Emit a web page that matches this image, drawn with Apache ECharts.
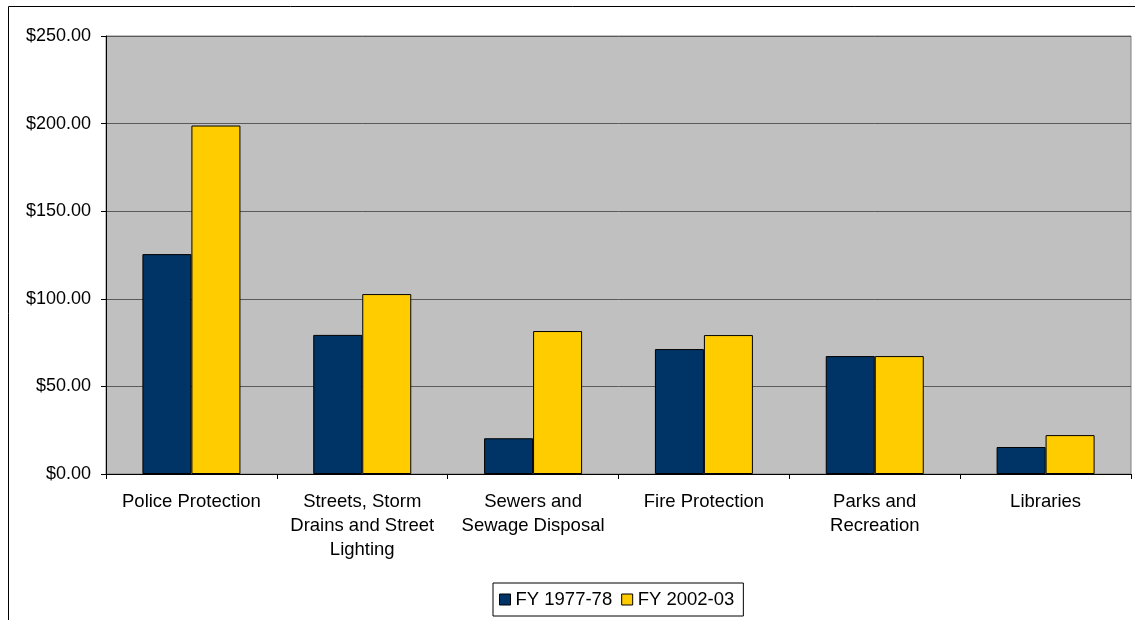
<!DOCTYPE html>
<html>
<head>
<meta charset="utf-8">
<script src="https://cdn.jsdelivr.net/npm/echarts@6/dist/echarts.min.js"></script>
<style>
  html, body { margin:0; padding:0; background:#fff; }
  #chart { width:1135px; height:620px; }
</style>
</head>
<body>
<div id="chart"></div>
<script>
// categories and values
var categories = ["Police Protection", "Streets, Storm\nDrains and Street\nLighting", "Sewers and\nSewage Disposal", "Fire Protection", "Parks and\nRecreation", "Libraries"];
var fy1977 = [125.5, 79.4, 20.4, 71.3, 67.3, 15.4];
var fy2002 = [198.9, 102.7, 81.6, 79.3, 67.3, 22.2];
var seriesNames = ["FY 1977-78", "FY 2002-03"];

var myChart = echarts.init(document.getElementById("chart"));

var option = {
	animation : false,
	textStyle : { fontFamily : "Liberation Sans, Arial, sans-serif" },
	graphic : [{
		type : "rect",
		shape : { x : 8.5, y : 6.5, width : 1200, height : 700 },
		style : { fill : "none", stroke : "#000", lineWidth : 1 },
		z : 0
	}],
	grid : {
		left : 106, right : 4, top : 36, bottom : 146,
		show : true,
		backgroundColor : "#C0C0C0",
		borderColor : "#808080",
		borderWidth : 1
	},
	legend : {
		data : seriesNames,
		left : 493, top : 583,
		orient : "horizontal",
		icon : "rect",
		itemWidth : 11, itemHeight : 11,
		itemGap : 9,
		padding : [7, 9, 7, 6],
		borderColor : "#000", borderWidth : 1,
		itemStyle : { borderColor : "#000", borderWidth : 1 },
		textStyle : { fontSize : 18.5, color : "#000" }
	},
	xAxis : {
		type : "category",
		data : categories,
		axisLine : { lineStyle : { color : "#000", width : 1 } },
		axisTick : { show : true, length : 5, lineStyle : { color : "#000" } },
		axisLabel : { color : "#000", fontSize : 18.5, lineHeight : 24, margin : 16, interval : 0 }
	},
	yAxis : {
		type : "value",
		min : 0, max : 250, interval : 50,
		axisLine : { show : true, lineStyle : { color : "#000", width : 1 } },
		axisTick : { show : true, length : 5, lineStyle : { color : "#000" } },
		axisLabel : {
			color : "#000", fontSize : 18, margin : 15,
			formatter : function(v) { return "$" + v.toFixed(2); }
		},
		splitLine : { show : true, lineStyle : { color : "#5a5a5a", width : 1 } }
	},
	series : [{
		name : seriesNames[0],
		type : "bar",
		data : fy1977,
		barWidth : 49,
		barGap : "0%",
		itemStyle : { color : "#003366", borderColor : "#000", borderWidth : 1 }
	}, {
		name : seriesNames[1],
		type : "bar",
		data : fy2002,
		barWidth : 49,
		barGap : "0%",
		itemStyle : { color : "#FFCC00", borderColor : "#000", borderWidth : 1 }
	}]
};
myChart.setOption(option);
</script>
</body>
</html>
